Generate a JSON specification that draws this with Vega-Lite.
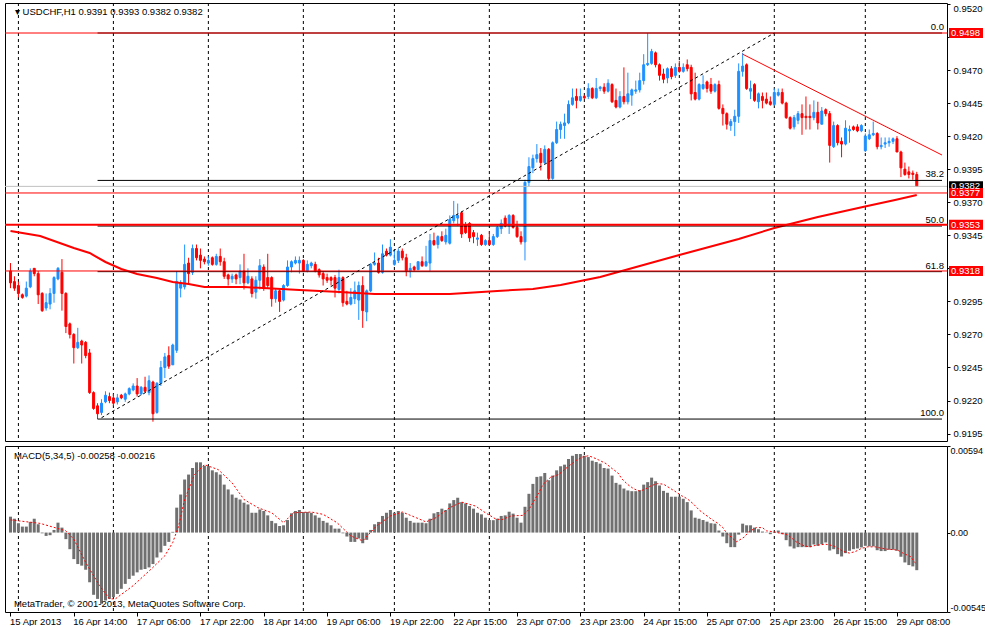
{
  "$schema": "https://vega.github.io/schema/vega-lite/v6.json",
  "background": "white",
  "padding": {"left": 3, "top": 2, "right": 0, "bottom": 0},
  "spacing": 3,
  "datasets": {
    "bars": [
      {"i":0,"o":0.9318,"h":0.9324,"l":0.9305,"c":0.9309,"m":0.00109},
      {"i":1,"o":0.9310,"h":0.9314,"l":0.9303,"c":0.9305,"m":0.00095},
      {"i":2,"o":0.9307,"h":0.9310,"l":0.9298,"c":0.9301,"m":0.00064},
      {"i":3,"o":0.9300,"h":0.9301,"l":0.9297,"c":0.9298,"m":0.00041},
      {"i":4,"o":0.9299,"h":0.9310,"l":0.9298,"c":0.9305,"m":0.00041},
      {"i":5,"o":0.9306,"h":0.9320,"l":0.9305,"c":0.9318,"m":0.00073},
      {"i":6,"o":0.9320,"h":0.9320,"l":0.9314,"c":0.9316,"m":0.00095},
      {"i":7,"o":0.9316,"h":0.9318,"l":0.9293,"c":0.9300,"m":0.00057},
      {"i":8,"o":0.9301,"h":0.9302,"l":0.9287,"c":0.9288,"m":-0.00005},
      {"i":9,"o":0.9290,"h":0.9301,"l":0.9288,"c":0.9294,"m":-0.00023},
      {"i":10,"o":0.9293,"h":0.9305,"l":0.9289,"c":0.9301,"m":-0.00018},
      {"i":11,"o":0.9301,"h":0.9314,"l":0.9294,"c":0.9313,"m":0.00018},
      {"i":12,"o":0.9312,"h":0.9321,"l":0.9311,"c":0.9320,"m":0.00068},
      {"i":13,"o":0.9317,"h":0.9327,"l":0.9288,"c":0.9301,"m":0.00034},
      {"i":14,"o":0.9301,"h":0.9302,"l":0.9271,"c":0.9276,"m":-0.00045},
      {"i":15,"o":0.9278,"h":0.9279,"l":0.9267,"c":0.9270,"m":-0.00114},
      {"i":16,"o":0.9270,"h":0.9271,"l":0.9248,"c":0.9260,"m":-0.00182},
      {"i":17,"o":0.9260,"h":0.9275,"l":0.9259,"c":0.9264,"m":-0.00216},
      {"i":18,"o":0.9265,"h":0.9266,"l":0.9248,"c":0.9262,"m":-0.00227},
      {"i":19,"o":0.9264,"h":0.9265,"l":0.9252,"c":0.9254,"m":-0.00255},
      {"i":20,"o":0.9256,"h":0.9259,"l":0.9225,"c":0.9226,"m":-0.00341},
      {"i":21,"o":0.9226,"h":0.9227,"l":0.9213,"c":0.9214,"m":-0.00427},
      {"i":22,"o":0.9216,"h":0.9218,"l":0.9206,"c":0.9210,"m":-0.00455},
      {"i":23,"o":0.9211,"h":0.9221,"l":0.9209,"c":0.9218,"m":-0.00489},
      {"i":24,"o":0.9219,"h":0.9227,"l":0.9218,"c":0.9224,"m":-0.00466},
      {"i":25,"o":0.9223,"h":0.9226,"l":0.9218,"c":0.9220,"m":-0.00455},
      {"i":26,"o":0.9222,"h":0.9225,"l":0.9216,"c":0.9218,"m":-0.00443},
      {"i":27,"o":0.9219,"h":0.9225,"l":0.9217,"c":0.9222,"m":-0.00421},
      {"i":28,"o":0.9224,"h":0.9225,"l":0.9221,"c":0.9222,"m":-0.00386},
      {"i":29,"o":0.9221,"h":0.9226,"l":0.9219,"c":0.9225,"m":-0.00352},
      {"i":30,"o":0.9225,"h":0.9230,"l":0.9224,"c":0.9229,"m":-0.00318},
      {"i":31,"o":0.9228,"h":0.9233,"l":0.9227,"c":0.9231,"m":-0.00296},
      {"i":32,"o":0.9231,"h":0.9237,"l":0.9223,"c":0.9225,"m":-0.00273},
      {"i":33,"o":0.9225,"h":0.9231,"l":0.9224,"c":0.9230,"m":-0.00255},
      {"i":34,"o":0.9230,"h":0.9238,"l":0.9226,"c":0.9227,"m":-0.00250},
      {"i":35,"o":0.9226,"h":0.9239,"l":0.9224,"c":0.9235,"m":-0.00239},
      {"i":36,"o":0.9234,"h":0.9235,"l":0.9204,"c":0.9210,"m":-0.00216},
      {"i":37,"o":0.9211,"h":0.9234,"l":0.9210,"c":0.9233,"m":-0.00171},
      {"i":38,"o":0.9233,"h":0.9250,"l":0.9231,"c":0.9245,"m":-0.00136},
      {"i":39,"o":0.9245,"h":0.9256,"l":0.9237,"c":0.9253,"m":-0.00091},
      {"i":40,"o":0.9254,"h":0.9261,"l":0.9244,"c":0.9246,"m":-0.00064},
      {"i":41,"o":0.9247,"h":0.9263,"l":0.9247,"c":0.9262,"m":0.00005},
      {"i":42,"o":0.9258,"h":0.9318,"l":0.9256,"c":0.9310,"m":0.00171},
      {"i":43,"o":0.9305,"h":0.9311,"l":0.9298,"c":0.9309,"m":0.00261},
      {"i":44,"o":0.9306,"h":0.9338,"l":0.9304,"c":0.9323,"m":0.00364},
      {"i":45,"o":0.9324,"h":0.9328,"l":0.9308,"c":0.9316,"m":0.00398},
      {"i":46,"o":0.9317,"h":0.9338,"l":0.9315,"c":0.9335,"m":0.00443},
      {"i":47,"o":0.9335,"h":0.9338,"l":0.9326,"c":0.9328,"m":0.00482},
      {"i":48,"o":0.9330,"h":0.9335,"l":0.9320,"c":0.9326,"m":0.00482},
      {"i":49,"o":0.9327,"h":0.9329,"l":0.9323,"c":0.9325,"m":0.00459},
      {"i":50,"o":0.9324,"h":0.9329,"l":0.9322,"c":0.9326,"m":0.00455},
      {"i":51,"o":0.9328,"h":0.9329,"l":0.9322,"c":0.9323,"m":0.00427},
      {"i":52,"o":0.9323,"h":0.9331,"l":0.9322,"c":0.9329,"m":0.00414},
      {"i":53,"o":0.9329,"h":0.9335,"l":0.9322,"c":0.9325,"m":0.00398},
      {"i":54,"o":0.9325,"h":0.9328,"l":0.9312,"c":0.9314,"m":0.00329},
      {"i":55,"o":0.9315,"h":0.9316,"l":0.9307,"c":0.9312,"m":0.00296},
      {"i":56,"o":0.9312,"h":0.9316,"l":0.9309,"c":0.9314,"m":0.00261},
      {"i":57,"o":0.9315,"h":0.9316,"l":0.9308,"c":0.9312,"m":0.00239},
      {"i":58,"o":0.9313,"h":0.9323,"l":0.9308,"c":0.9318,"m":0.00227},
      {"i":59,"o":0.9318,"h":0.9331,"l":0.9304,"c":0.9309,"m":0.00205},
      {"i":60,"o":0.9309,"h":0.9320,"l":0.9308,"c":0.9314,"m":0.00193},
      {"i":61,"o":0.9312,"h":0.9314,"l":0.9298,"c":0.9301,"m":0.00136},
      {"i":62,"o":0.9302,"h":0.9314,"l":0.9297,"c":0.9311,"m":0.00136},
      {"i":63,"o":0.9311,"h":0.9327,"l":0.9304,"c":0.9322,"m":0.00159},
      {"i":64,"o":0.9321,"h":0.9323,"l":0.9303,"c":0.9305,"m":0.00148},
      {"i":65,"o":0.9313,"h":0.9331,"l":0.9305,"c":0.9307,"m":0.00118},
      {"i":66,"o":0.9313,"h":0.9314,"l":0.9291,"c":0.9297,"m":0.00080},
      {"i":67,"o":0.9297,"h":0.9305,"l":0.9294,"c":0.9303,"m":0.00064},
      {"i":68,"o":0.9303,"h":0.9304,"l":0.9287,"c":0.9295,"m":0.00045},
      {"i":69,"o":0.9296,"h":0.9308,"l":0.9295,"c":0.9307,"m":0.00050},
      {"i":70,"o":0.9307,"h":0.9326,"l":0.9306,"c":0.9321,"m":0.00086},
      {"i":71,"o":0.9321,"h":0.9326,"l":0.9317,"c":0.9325,"m":0.00132},
      {"i":72,"o":0.9324,"h":0.9329,"l":0.9323,"c":0.9326,"m":0.00148},
      {"i":73,"o":0.9324,"h":0.9329,"l":0.9316,"c":0.9326,"m":0.00155},
      {"i":74,"o":0.9326,"h":0.9327,"l":0.9317,"c":0.9318,"m":0.00141},
      {"i":75,"o":0.9318,"h":0.9326,"l":0.9317,"c":0.9323,"m":0.00141},
      {"i":76,"o":0.9322,"h":0.9325,"l":0.9320,"c":0.9324,"m":0.00136},
      {"i":77,"o":0.9323,"h":0.9325,"l":0.9317,"c":0.9318,"m":0.00118},
      {"i":78,"o":0.9319,"h":0.9320,"l":0.9313,"c":0.9315,"m":0.00102},
      {"i":79,"o":0.9316,"h":0.9318,"l":0.9307,"c":0.9312,"m":0.00080},
      {"i":80,"o":0.9313,"h":0.9316,"l":0.9309,"c":0.9311,"m":0.00068},
      {"i":81,"o":0.9313,"h":0.9314,"l":0.9307,"c":0.9311,"m":0.00050},
      {"i":82,"o":0.9313,"h":0.9315,"l":0.9298,"c":0.9305,"m":0.00027},
      {"i":83,"o":0.9304,"h":0.9319,"l":0.9301,"c":0.9313,"m":0.00027},
      {"i":84,"o":0.9313,"h":0.9314,"l":0.9291,"c":0.9294,"m":-0.00005},
      {"i":85,"o":0.9295,"h":0.9303,"l":0.9292,"c":0.9293,"m":-0.00027},
      {"i":86,"o":0.9293,"h":0.9305,"l":0.9292,"c":0.9298,"m":-0.00064},
      {"i":87,"o":0.9297,"h":0.9310,"l":0.9293,"c":0.9303,"m":-0.00064},
      {"i":88,"o":0.9296,"h":0.9310,"l":0.9281,"c":0.9307,"m":-0.00041},
      {"i":89,"o":0.9307,"h":0.9314,"l":0.9275,"c":0.9288,"m":-0.00073},
      {"i":90,"o":0.9287,"h":0.9304,"l":0.9280,"c":0.9303,"m":-0.00050},
      {"i":91,"o":0.9303,"h":0.9324,"l":0.9302,"c":0.9323,"m":0.00018},
      {"i":92,"o":0.9323,"h":0.9332,"l":0.9322,"c":0.9324,"m":0.00057},
      {"i":93,"o":0.9324,"h":0.9328,"l":0.9316,"c":0.9317,"m":0.00073},
      {"i":94,"o":0.9317,"h":0.9338,"l":0.9316,"c":0.9331,"m":0.00114},
      {"i":95,"o":0.9333,"h":0.9335,"l":0.9329,"c":0.9330,"m":0.00136},
      {"i":96,"o":0.9330,"h":0.9342,"l":0.9329,"c":0.9336,"m":0.00155},
      {"i":97,"o":0.9323,"h":0.9334,"l":0.9322,"c":0.9326,"m":0.00136},
      {"i":98,"o":0.9326,"h":0.9335,"l":0.9324,"c":0.9333,"m":0.00148},
      {"i":99,"o":0.9333,"h":0.9335,"l":0.9326,"c":0.9328,"m":0.00136},
      {"i":100,"o":0.9328,"h":0.9331,"l":0.9314,"c":0.9318,"m":0.00102},
      {"i":101,"o":0.9318,"h":0.9324,"l":0.9313,"c":0.9320,"m":0.00080},
      {"i":102,"o":0.9321,"h":0.9322,"l":0.9318,"c":0.9319,"m":0.00068},
      {"i":103,"o":0.9319,"h":0.9325,"l":0.9319,"c":0.9325,"m":0.00068},
      {"i":104,"o":0.9325,"h":0.9329,"l":0.9321,"c":0.9322,"m":0.00068},
      {"i":105,"o":0.9322,"h":0.9337,"l":0.9321,"c":0.9325,"m":0.00064},
      {"i":106,"o":0.9324,"h":0.9346,"l":0.9318,"c":0.9341,"m":0.00095},
      {"i":107,"o":0.9341,"h":0.9347,"l":0.9337,"c":0.9338,"m":0.00132},
      {"i":108,"o":0.9338,"h":0.9345,"l":0.9335,"c":0.9344,"m":0.00141},
      {"i":109,"o":0.9344,"h":0.9348,"l":0.9340,"c":0.9341,"m":0.00164},
      {"i":110,"o":0.9340,"h":0.9350,"l":0.9338,"c":0.9345,"m":0.00155},
      {"i":111,"o":0.9339,"h":0.9360,"l":0.9338,"c":0.9357,"m":0.00200},
      {"i":112,"o":0.9356,"h":0.9371,"l":0.9354,"c":0.9360,"m":0.00223},
      {"i":113,"o":0.9358,"h":0.9369,"l":0.9352,"c":0.9360,"m":0.00239},
      {"i":114,"o":0.9362,"h":0.9363,"l":0.9343,"c":0.9346,"m":0.00209},
      {"i":115,"o":0.9353,"h":0.9355,"l":0.9346,"c":0.9347,"m":0.00200},
      {"i":116,"o":0.9354,"h":0.9355,"l":0.9340,"c":0.9343,"m":0.00182},
      {"i":117,"o":0.9347,"h":0.9349,"l":0.9339,"c":0.9344,"m":0.00164},
      {"i":118,"o":0.9342,"h":0.9347,"l":0.9337,"c":0.9343,"m":0.00136},
      {"i":119,"o":0.9345,"h":0.9346,"l":0.9337,"c":0.9338,"m":0.00125},
      {"i":120,"o":0.9338,"h":0.9342,"l":0.9337,"c":0.9341,"m":0.00102},
      {"i":121,"o":0.9341,"h":0.9348,"l":0.9337,"c":0.9338,"m":0.00086},
      {"i":122,"o":0.9338,"h":0.9346,"l":0.9337,"c":0.9344,"m":0.00085},
      {"i":123,"o":0.9344,"h":0.9352,"l":0.9343,"c":0.9351,"m":0.00095},
      {"i":124,"o":0.9350,"h":0.9357,"l":0.9346,"c":0.9354,"m":0.00114},
      {"i":125,"o":0.9358,"h":0.9360,"l":0.9351,"c":0.9352,"m":0.00118},
      {"i":126,"o":0.9352,"h":0.9361,"l":0.9346,"c":0.9360,"m":0.00143},
      {"i":127,"o":0.9360,"h":0.9361,"l":0.9350,"c":0.9351,"m":0.00130},
      {"i":128,"o":0.9351,"h":0.9356,"l":0.9343,"c":0.9344,"m":0.00102},
      {"i":129,"o":0.9344,"h":0.9348,"l":0.9338,"c":0.9340,"m":0.00068},
      {"i":130,"o":0.9340,"h":0.9387,"l":0.9326,"c":0.9385,"m":0.00177},
      {"i":131,"o":0.9385,"h":0.9404,"l":0.9382,"c":0.9397,"m":0.00266},
      {"i":132,"o":0.9396,"h":0.9406,"l":0.9392,"c":0.9403,"m":0.00334},
      {"i":133,"o":0.9403,"h":0.9414,"l":0.9400,"c":0.9406,"m":0.00382},
      {"i":134,"o":0.9407,"h":0.9411,"l":0.9394,"c":0.9400,"m":0.00386},
      {"i":135,"o":0.9400,"h":0.9413,"l":0.9399,"c":0.9410,"m":0.00409},
      {"i":136,"o":0.9410,"h":0.9411,"l":0.9386,"c":0.9388,"m":0.00359},
      {"i":137,"o":0.9388,"h":0.9416,"l":0.9387,"c":0.9415,"m":0.00391},
      {"i":138,"o":0.9415,"h":0.9431,"l":0.9414,"c":0.9425,"m":0.00427},
      {"i":139,"o":0.9425,"h":0.9431,"l":0.9418,"c":0.9429,"m":0.00455},
      {"i":140,"o":0.9428,"h":0.9437,"l":0.9418,"c":0.9430,"m":0.00466},
      {"i":141,"o":0.9430,"h":0.9447,"l":0.9429,"c":0.9444,"m":0.00505},
      {"i":142,"o":0.9444,"h":0.9456,"l":0.9443,"c":0.9449,"m":0.00527},
      {"i":143,"o":0.9450,"h":0.9456,"l":0.9441,"c":0.9447,"m":0.00539},
      {"i":144,"o":0.9447,"h":0.9456,"l":0.9446,"c":0.9450,"m":0.00539},
      {"i":145,"o":0.9450,"h":0.9451,"l":0.9448,"c":0.9449,"m":0.00527},
      {"i":146,"o":0.9450,"h":0.9460,"l":0.9448,"c":0.9456,"m":0.00518},
      {"i":147,"o":0.9456,"h":0.9457,"l":0.9448,"c":0.9449,"m":0.00493},
      {"i":148,"o":0.9449,"h":0.9464,"l":0.9448,"c":0.9456,"m":0.00484},
      {"i":149,"o":0.9456,"h":0.9458,"l":0.9454,"c":0.9457,"m":0.00473},
      {"i":150,"o":0.9457,"h":0.9460,"l":0.9452,"c":0.9454,"m":0.00443},
      {"i":151,"o":0.9454,"h":0.9463,"l":0.9453,"c":0.9460,"m":0.00439},
      {"i":152,"o":0.9459,"h":0.9460,"l":0.9445,"c":0.9446,"m":0.00391},
      {"i":153,"o":0.9447,"h":0.9456,"l":0.9441,"c":0.9442,"m":0.00341},
      {"i":154,"o":0.9442,"h":0.9454,"l":0.9441,"c":0.9450,"m":0.00329},
      {"i":155,"o":0.9450,"h":0.9472,"l":0.9444,"c":0.9446,"m":0.00302},
      {"i":156,"o":0.9446,"h":0.9468,"l":0.9444,"c":0.9452,"m":0.00289},
      {"i":157,"o":0.9451,"h":0.9456,"l":0.9443,"c":0.9455,"m":0.00284},
      {"i":158,"o":0.9454,"h":0.9462,"l":0.9452,"c":0.9455,"m":0.00284},
      {"i":159,"o":0.9455,"h":0.9468,"l":0.9453,"c":0.9462,"m":0.00291},
      {"i":160,"o":0.9462,"h":0.9482,"l":0.9459,"c":0.9474,"m":0.00329},
      {"i":161,"o":0.9474,"h":0.9498,"l":0.9473,"c":0.9475,"m":0.00346},
      {"i":162,"o":0.9475,"h":0.9486,"l":0.9474,"c":0.9484,"m":0.00377},
      {"i":163,"o":0.9483,"h":0.9484,"l":0.9472,"c":0.9474,"m":0.00352},
      {"i":164,"o":0.9474,"h":0.9475,"l":0.9462,"c":0.9466,"m":0.00323},
      {"i":165,"o":0.9467,"h":0.9471,"l":0.9460,"c":0.9463,"m":0.00286},
      {"i":166,"o":0.9464,"h":0.9472,"l":0.9460,"c":0.9471,"m":0.00273},
      {"i":167,"o":0.9471,"h":0.9473,"l":0.9463,"c":0.9465,"m":0.00246},
      {"i":168,"o":0.9466,"h":0.9475,"l":0.9464,"c":0.9472,"m":0.00246},
      {"i":169,"o":0.9472,"h":0.9477,"l":0.9468,"c":0.9469,"m":0.00246},
      {"i":170,"o":0.9469,"h":0.9475,"l":0.9468,"c":0.9472,"m":0.00232},
      {"i":171,"o":0.9474,"h":0.9478,"l":0.9469,"c":0.9471,"m":0.00209},
      {"i":172,"o":0.9472,"h":0.9474,"l":0.9447,"c":0.9452,"m":0.00152},
      {"i":173,"o":0.9453,"h":0.9468,"l":0.9447,"c":0.9448,"m":0.00102},
      {"i":174,"o":0.9448,"h":0.9460,"l":0.9447,"c":0.9459,"m":0.00095},
      {"i":175,"o":0.9456,"h":0.9466,"l":0.9455,"c":0.9459,"m":0.00086},
      {"i":176,"o":0.9461,"h":0.9462,"l":0.9453,"c":0.9456,"m":0.00075},
      {"i":177,"o":0.9459,"h":0.9464,"l":0.9452,"c":0.9454,"m":0.00064},
      {"i":178,"o":0.9454,"h":0.9460,"l":0.9453,"c":0.9459,"m":0.00061},
      {"i":179,"o":0.9459,"h":0.9462,"l":0.9440,"c":0.9441,"m":0.00014},
      {"i":180,"o":0.9441,"h":0.9444,"l":0.9428,"c":0.9437,"m":-0.00027},
      {"i":181,"o":0.9437,"h":0.9438,"l":0.9425,"c":0.9429,"m":-0.00073},
      {"i":182,"o":0.9428,"h":0.9433,"l":0.9424,"c":0.9431,"m":-0.00100},
      {"i":183,"o":0.9431,"h":0.9440,"l":0.9420,"c":0.9435,"m":-0.00100},
      {"i":184,"o":0.9435,"h":0.9475,"l":0.9430,"c":0.9469,"m":-0.00014},
      {"i":185,"o":0.9469,"h":0.9483,"l":0.9465,"c":0.9473,"m":0.00061},
      {"i":186,"o":0.9474,"h":0.9475,"l":0.9455,"c":0.9456,"m":0.00050},
      {"i":187,"o":0.9454,"h":0.9462,"l":0.9448,"c":0.9456,"m":0.00050},
      {"i":188,"o":0.9459,"h":0.9460,"l":0.9446,"c":0.9447,"m":0.00034},
      {"i":189,"o":0.9446,"h":0.9453,"l":0.9441,"c":0.9452,"m":0.00023},
      {"i":190,"o":0.9450,"h":0.9453,"l":0.9441,"c":0.9447,"m":0.00007},
      {"i":191,"o":0.9448,"h":0.9453,"l":0.9444,"c":0.9445,"m":0.00002},
      {"i":192,"o":0.9446,"h":0.9450,"l":0.9443,"c":0.9444,"m":-0.00011},
      {"i":193,"o":0.9444,"h":0.9456,"l":0.9443,"c":0.9453,"m":0.00005},
      {"i":194,"o":0.9451,"h":0.9456,"l":0.9450,"c":0.9453,"m":0.00014},
      {"i":195,"o":0.9453,"h":0.9456,"l":0.9444,"c":0.9445,"m":-0.00011},
      {"i":196,"o":0.9445,"h":0.9446,"l":0.9433,"c":0.9434,"m":-0.00052},
      {"i":197,"o":0.9434,"h":0.9435,"l":0.9425,"c":0.9426,"m":-0.00095},
      {"i":198,"o":0.9427,"h":0.9436,"l":0.9425,"c":0.9434,"m":-0.00109},
      {"i":199,"o":0.9432,"h":0.9439,"l":0.9429,"c":0.9437,"m":-0.00100},
      {"i":200,"o":0.9437,"h":0.9444,"l":0.9421,"c":0.9434,"m":-0.00100},
      {"i":201,"o":0.9435,"h":0.9450,"l":0.9425,"c":0.9434,"m":-0.00100},
      {"i":202,"o":0.9435,"h":0.9444,"l":0.9425,"c":0.9434,"m":-0.00100},
      {"i":203,"o":0.9434,"h":0.9447,"l":0.9432,"c":0.9438,"m":-0.00082},
      {"i":204,"o":0.9438,"h":0.9446,"l":0.9425,"c":0.9430,"m":-0.00091},
      {"i":205,"o":0.9429,"h":0.9442,"l":0.9429,"c":0.9439,"m":-0.00080},
      {"i":206,"o":0.9440,"h":0.9441,"l":0.9435,"c":0.9437,"m":-0.00068},
      {"i":207,"o":0.9437,"h":0.9439,"l":0.9400,"c":0.9413,"m":-0.00123},
      {"i":208,"o":0.9412,"h":0.9431,"l":0.9411,"c":0.9428,"m":-0.00114},
      {"i":209,"o":0.9428,"h":0.9429,"l":0.9413,"c":0.9415,"m":-0.00148},
      {"i":210,"o":0.9416,"h":0.9419,"l":0.9404,"c":0.9414,"m":-0.00164},
      {"i":211,"o":0.9414,"h":0.9432,"l":0.9413,"c":0.9426,"m":-0.00141},
      {"i":212,"o":0.9424,"h":0.9428,"l":0.9415,"c":0.9425,"m":-0.00125},
      {"i":213,"o":0.9427,"h":0.9428,"l":0.9424,"c":0.9425,"m":-0.00114},
      {"i":214,"o":0.9427,"h":0.9429,"l":0.9423,"c":0.9424,"m":-0.00109},
      {"i":215,"o":0.9424,"h":0.9429,"l":0.9423,"c":0.9428,"m":-0.00102},
      {"i":216,"o":0.9409,"h":0.9422,"l":0.9408,"c":0.9420,"m":-0.00091},
      {"i":217,"o":0.9418,"h":0.9425,"l":0.9417,"c":0.9421,"m":-0.00095},
      {"i":218,"o":0.9421,"h":0.9431,"l":0.9420,"c":0.9422,"m":-0.00095},
      {"i":219,"o":0.9422,"h":0.9423,"l":0.9410,"c":0.9412,"m":-0.00121},
      {"i":220,"o":0.9412,"h":0.9419,"l":0.9410,"c":0.9413,"m":-0.00127},
      {"i":221,"o":0.9414,"h":0.9419,"l":0.9411,"c":0.9415,"m":-0.00127},
      {"i":222,"o":0.9415,"h":0.9419,"l":0.9412,"c":0.9416,"m":-0.00118},
      {"i":223,"o":0.9416,"h":0.9419,"l":0.9414,"c":0.9418,"m":-0.00118},
      {"i":224,"o":0.9418,"h":0.9420,"l":0.9408,"c":0.9408,"m":-0.00125},
      {"i":225,"o":0.9408,"h":0.9409,"l":0.9389,"c":0.9396,"m":-0.00166},
      {"i":226,"o":0.9395,"h":0.9400,"l":0.9390,"c":0.9391,"m":-0.00205},
      {"i":227,"o":0.9393,"h":0.9397,"l":0.9388,"c":0.9391,"m":-0.00223},
      {"i":228,"o":0.9392,"h":0.9394,"l":0.9387,"c":0.9391,"m":-0.00232},
      {"i":229,"o":0.9391,"h":0.9393,"l":0.9382,"c":0.9382,"m":-0.00258}
    ],
    "ma": [
      {"i":0,"p":0.93483},{"i":7.5,"p":0.93445},{"i":16,"p":0.93354},{"i":20,"p":0.93316},
      {"i":24,"p":0.93248},{"i":28,"p":0.93195},{"i":32,"p":0.93157},{"i":37,"p":0.93127},
      {"i":41,"p":0.93097},{"i":45,"p":0.93082},{"i":49,"p":0.93059},{"i":59,"p":0.93059},
      {"i":73,"p":0.93036},{"i":82,"p":0.93023},{"i":92,"p":0.93006},{"i":111,"p":0.93006},
      {"i":115,"p":0.93014},{"i":123,"p":0.93029},{"i":132,"p":0.93044},{"i":139,"p":0.93074},
      {"i":149,"p":0.93135},{"i":159,"p":0.93218},{"i":169,"p":0.93301},{"i":184,"p":0.93422},
      {"i":193,"p":0.93505},{"i":204,"p":0.93588},{"i":216.5,"p":0.93672},{"i":223.5,"p":0.93717},
      {"i":229,"p":0.93755}
    ],
    "sig": [
      {"i":0,"s":0.00087},{"i":7.5,"s":0.00063},{"i":14,"s":0.00012},{"i":16,"s":-0.00046},
      {"i":19,"s":-0.00205},{"i":22.5,"s":-0.00364},{"i":25,"s":-0.00455},{"i":26.5,"s":-0.00455},
      {"i":31,"s":-0.00364},{"i":36,"s":-0.00239},{"i":39,"s":-0.00159},{"i":41,"s":-0.00068},
      {"i":42.5,"s":0.00046},{"i":44,"s":0.00227},{"i":46.5,"s":0.00398},{"i":49,"s":0.00466},
      {"i":52.5,"s":0.00432},{"i":56,"s":0.00341},{"i":59,"s":0.00227},{"i":62.5,"s":0.00171},
      {"i":66,"s":0.00136},{"i":69,"s":0.00068},{"i":71.5,"s":0.00136},{"i":76,"s":0.00141},
      {"i":79,"s":0.00125},{"i":82.5,"s":0.00068},{"i":86,"s":-0.00023},{"i":89,"s":-0.00057},
      {"i":92.5,"s":0.00046},{"i":96,"s":0.00114},{"i":99,"s":0.00141},{"i":102.5,"s":0.00102},
      {"i":105,"s":0.00073},{"i":107.5,"s":0.00102},{"i":111,"s":0.00171},{"i":114,"s":0.00209},
      {"i":117.5,"s":0.00182},{"i":120,"s":0.00136},{"i":122.5,"s":0.00095},{"i":124,"s":0.00087},
      {"i":126.5,"s":0.00114},{"i":129.5,"s":0.00118},{"i":131,"s":0.00159},{"i":132,"s":0.00205},
      {"i":133.5,"s":0.00273},{"i":134.5,"s":0.00329},{"i":136.5,"s":0.00380},{"i":138.5,"s":0.00398},
      {"i":141,"s":0.00455},{"i":143,"s":0.00496},{"i":144.5,"s":0.00518},{"i":146,"s":0.00527},
      {"i":147,"s":0.00518},{"i":148.5,"s":0.00500},{"i":150.5,"s":0.00473},{"i":151.5,"s":0.00450},
      {"i":153.5,"s":0.00409},{"i":154.5,"s":0.00368},{"i":156,"s":0.00329},{"i":157.5,"s":0.00300},
      {"i":159,"s":0.00284},{"i":160.5,"s":0.00300},{"i":162,"s":0.00323},{"i":163.5,"s":0.00336},
      {"i":165,"s":0.00332},{"i":166.5,"s":0.00307},{"i":168.5,"s":0.00273},{"i":169.5,"s":0.00254},
      {"i":171,"s":0.00232},{"i":172.5,"s":0.00198},{"i":174,"s":0.00155},{"i":176,"s":0.00114},
      {"i":177.5,"s":0.00084},{"i":178.5,"s":0.00068},{"i":180,"s":0.00034},{"i":181,"s":-0.00005},
      {"i":182.5,"s":-0.00041},{"i":183.5,"s":-0.00063},{"i":185.5,"s":-0.00029},{"i":186.5,"s":0.00005},
      {"i":188.5,"s":0.00034},{"i":190,"s":0.00034},{"i":191,"s":0.00012},{"i":193,"s":0.00005},
      {"i":194.5,"s":-0.00005},{"i":196,"s":-0.00012},{"i":197,"s":-0.00029},{"i":198.5,"s":-0.00063},
      {"i":200.5,"s":-0.00091},{"i":202,"s":-0.00098},{"i":203.5,"s":-0.00087},{"i":206,"s":-0.00080},
      {"i":208,"s":-0.00091},{"i":209,"s":-0.00107},{"i":210.5,"s":-0.00130},{"i":212,"s":-0.00141},
      {"i":213.5,"s":-0.00130},{"i":215,"s":-0.00109},{"i":216.5,"s":-0.00098},{"i":218.5,"s":-0.00098},
      {"i":220,"s":-0.00107},{"i":221.5,"s":-0.00114},{"i":223.5,"s":-0.00118},{"i":224.5,"s":-0.00125},
      {"i":225.5,"s":-0.00141},{"i":227.5,"s":-0.00166},{"i":228.5,"s":-0.00205},{"i":229,"s":-0.00216}
    ],
    "days": [{"i":2},{"i":26},{"i":50},{"i":74},{"i":97},{"i":121},{"i":145},{"i":169},{"i":193},{"i":216}],
    "fib": [
      {"level":"0.0","p":0.9498},{"level":"38.2","p":0.93865},{"level":"50.0","p":0.9352},
      {"level":"61.8","p":0.93175},{"level":"100.0","p":0.9206}
    ],
    "levels": [
      {"p":0.9382,"kind":"bid"},{"p":0.9498,"kind":"level"},{"p":0.9377,"kind":"level"},
      {"p":0.9353,"kind":"level"},{"p":0.9318,"kind":"level"}
    ],
    "trendUp": [{"i":23,"p":0.9207},{"i":193,"p":0.9498}],
    "trendDown": [{"i":185,"p":0.9482},{"i":235.375,"p":0.94057}],
    "mainNote": [{"label":"▾ USDCHF,H1  0.9391 0.9393 0.9382 0.9382"}],
    "macdNote": [{"label":"MACD(5,34,5) -0.00258 -0.00216"}],
    "copyNote": [{"label":"MetaTrader, © 2001-2013, MetaQuotes Software Corp."}]
  },
  "vconcat": [
    {
      "width": 942,
      "height": 438,
      "resolve": {"axis": {"x": "independent", "y": "independent"}},
      "layer": [
        {
          "data": {"name": "days"},
          "mark": {"type": "rule", "color": "black", "strokeDash": [3, 3], "strokeWidth": 1},
          "encoding": {
            "x": {"field": "i", "type": "quantitative", "scale": {"domain": [-0.125, 235.375], "nice": false, "zero": false}, "axis": null}
          }
        },
        {
          "data": {"name": "bars"},
          "mark": {"type": "rule", "strokeWidth": 1},
          "encoding": {
            "x": {"field": "i", "type": "quantitative", "scale": {"domain": [-0.125, 235.375], "nice": false, "zero": false}, "axis": null},
            "y": {
              "field": "l", "type": "quantitative",
              "scale": {"domain": [0.91894, 0.95207], "nice": false, "zero": false},
              "axis": {
                "orient": "right", "title": null,
                "values": [0.9195, 0.922, 0.9245, 0.927, 0.9295, 0.932, 0.9345, 0.937, 0.9395, 0.942, 0.9445, 0.947, 0.9495, 0.952],
                "labelExpr": "(abs(datum.value - 0.9495) < 0.00001 || abs(datum.value - 0.932) < 0.00001) ? '' : format(datum.value, '.4f')",
                "tickSize": 3, "labelPadding": 3, "labelFlush": 2, "labelBound": false, "labelOverlap": false
              }
            },
            "y2": {"field": "h"},
            "color": {"condition": {"test": "datum.c < datum.o", "value": "#ff0000"}, "value": "#1e90ff"}
          }
        },
        {
          "data": {"name": "bars"},
          "mark": {"type": "bar", "size": 2, "strokeWidth": 1, "orient": "vertical"},
          "encoding": {
            "x": {"field": "i", "type": "quantitative", "scale": {"domain": [-0.125, 235.375], "nice": false, "zero": false}, "axis": null},
            "y": {"field": "o", "type": "quantitative", "scale": {"domain": [0.91894, 0.95207], "nice": false, "zero": false}, "axis": null},
            "y2": {"field": "c"},
            "color": {"condition": {"test": "datum.c < datum.o", "value": "#ff0000"}, "value": "#1e90ff"},
            "stroke": {"condition": {"test": "datum.c < datum.o", "value": "#ff0000"}, "value": "#1e90ff"}
          }
        },
        {
          "data": {"name": "ma"},
          "mark": {"type": "line", "color": "#ff0000", "strokeWidth": 2, "clip": true},
          "encoding": {
            "x": {"field": "i", "type": "quantitative", "scale": {"domain": [-0.125, 235.375], "nice": false, "zero": false}, "axis": null},
            "y": {"field": "p", "type": "quantitative", "scale": {"domain": [0.91894, 0.95207], "nice": false, "zero": false}, "axis": null}
          }
        },
        {
          "data": {"name": "fib"},
          "mark": {"type": "rule", "color": "black", "strokeWidth": 1},
          "encoding": {
            "x": {"datum": 22, "type": "quantitative", "scale": {"domain": [-0.125, 235.375], "nice": false, "zero": false}, "axis": null},
            "x2": {"datum": 235.375},
            "y": {"field": "p", "type": "quantitative", "scale": {"domain": [0.91894, 0.95207], "nice": false, "zero": false}, "axis": null}
          }
        },
        {
          "data": {"name": "levels"},
          "mark": {"type": "rule"},
          "encoding": {
            "y": {"field": "p", "type": "quantitative", "scale": {"domain": [0.91894, 0.95207], "nice": false, "zero": false}, "axis": null},
            "color": {"condition": {"test": "datum.kind == 'bid'", "value": "#c0c0c0"}, "value": "#ff0000"},
            "strokeWidth": {"condition": {"test": "datum.p == 0.9353", "value": 2}, "value": 1}
          }
        },
        {
          "data": {"name": "trendUp"},
          "mark": {"type": "line", "color": "black", "strokeWidth": 1, "strokeDash": [3, 3], "clip": true},
          "encoding": {
            "x": {"field": "i", "type": "quantitative", "scale": {"domain": [-0.125, 235.375], "nice": false, "zero": false}, "axis": null},
            "y": {"field": "p", "type": "quantitative", "scale": {"domain": [0.91894, 0.95207], "nice": false, "zero": false}, "axis": null}
          }
        },
        {
          "data": {"name": "trendDown"},
          "mark": {"type": "line", "color": "#ff0000", "strokeWidth": 1, "clip": true},
          "encoding": {
            "x": {"field": "i", "type": "quantitative", "scale": {"domain": [-0.125, 235.375], "nice": false, "zero": false}, "axis": null},
            "y": {"field": "p", "type": "quantitative", "scale": {"domain": [0.91894, 0.95207], "nice": false, "zero": false}, "axis": null}
          }
        },
        {
          "data": {"name": "fib"},
          "mark": {"type": "text", "x": "width", "align": "right", "baseline": "alphabetic", "dx": -3, "dy": -3, "fill": "black"},
          "encoding": {
            "y": {"field": "p", "type": "quantitative", "scale": {"domain": [0.91894, 0.95207], "nice": false, "zero": false}, "axis": null},
            "text": {"field": "level"}
          }
        },
        {
          "data": {"name": "levels"},
          "mark": {"type": "point", "shape": "M0.4,-1H7.2V1H0.4Z", "size": 100, "filled": true, "opacity": 1, "strokeWidth": 0, "x": "width"},
          "encoding": {
            "y": {"field": "p", "type": "quantitative", "scale": {"domain": [0.91894, 0.95207], "nice": false, "zero": false}, "axis": null},
            "color": {"condition": {"test": "datum.kind == 'bid'", "value": "#000000"}, "value": "#ff0000"}
          }
        },
        {
          "data": {"name": "levels"},
          "mark": {"type": "text", "x": "width", "dx": 4, "align": "left", "baseline": "middle", "fill": "white"},
          "encoding": {
            "y": {"field": "p", "type": "quantitative", "scale": {"domain": [0.91894, 0.95207], "nice": false, "zero": false}, "axis": null},
            "text": {"field": "p", "type": "quantitative", "format": ".4f"}
          }
        },
        {
          "data": {"name": "mainNote"},
          "mark": {"type": "text", "align": "left", "baseline": "alphabetic", "fill": "black"},
          "encoding": {
            "x": {"datum": 1.125, "type": "quantitative", "scale": {"domain": [-0.125, 235.375], "nice": false, "zero": false}, "axis": null},
            "y": {"datum": 0.95116, "type": "quantitative", "scale": {"domain": [0.91894, 0.95207], "nice": false, "zero": false}, "axis": null},
            "text": {"field": "label"}
          }
        }
      ]
    },
    {
      "width": 942,
      "height": 166,
      "resolve": {"axis": {"x": "independent", "y": "independent"}},
      "layer": [
        {
          "data": {"name": "days"},
          "mark": {"type": "rule", "color": "black", "strokeDash": [3, 3], "strokeWidth": 1},
          "encoding": {
            "x": {"field": "i", "type": "quantitative", "scale": {"domain": [-0.125, 235.375], "nice": false, "zero": false}, "axis": null}
          }
        },
        {
          "data": {"name": "bars"},
          "mark": {"type": "bar", "size": 3, "color": "#707070", "orient": "vertical"},
          "encoding": {
            "x": {
              "field": "i", "type": "quantitative",
              "scale": {"domain": [-0.125, 235.375], "nice": false, "zero": false},
              "axis": {
                "values": [0, 16, 32, 48, 64, 80, 96, 112, 128, 144, 160, 176, 192, 208, 224],
                "labelExpr": "['15 Apr 2013','16 Apr 14:00','17 Apr 06:00','17 Apr 22:00','18 Apr 14:00','19 Apr 06:00','19 Apr 22:00','22 Apr 15:00','23 Apr 07:00','23 Apr 23:00','24 Apr 15:00','25 Apr 07:00','25 Apr 23:00','26 Apr 15:00','29 Apr 08:00'][round(datum.value / 16)]",
                "labelAlign": "left", "labelFlush": false, "labelOverlap": false, "labelBound": false,
                "tickSize": 4, "labelPadding": 0, "labelOffset": -1, "title": null
              }
            },
            "y": {
              "field": "m", "type": "quantitative",
              "scale": {"domain": [-0.00545, 0.00594], "nice": false, "zero": false},
              "axis": {
                "orient": "right", "title": null,
                "values": [-0.00545, 0, 0.00594],
                "labelExpr": "datum.value > 0 ? '0.00594' : (datum.value < 0 ? '-0.00545' : '0.00')",
                "tickSize": 3, "labelPadding": 0, "labelFontSize": 9, "labelFlush": true, "labelOverlap": false
              }
            },
            "y2": {"datum": 0}
          }
        },
        {
          "data": {"name": "sig"},
          "mark": {"type": "line", "color": "#ff0000", "strokeWidth": 1, "strokeDash": [2, 2]},
          "encoding": {
            "x": {"field": "i", "type": "quantitative", "scale": {"domain": [-0.125, 235.375], "nice": false, "zero": false}, "axis": null},
            "y": {"field": "s", "type": "quantitative", "scale": {"domain": [-0.00545, 0.00594], "nice": false, "zero": false}, "axis": null}
          }
        },
        {
          "data": {"name": "macdNote"},
          "mark": {"type": "text", "align": "left", "baseline": "alphabetic", "fill": "black"},
          "encoding": {
            "x": {"datum": 0.875, "type": "quantitative", "scale": {"domain": [-0.125, 235.375], "nice": false, "zero": false}, "axis": null},
            "y": {"datum": 0.00505, "type": "quantitative", "scale": {"domain": [-0.00545, 0.00594], "nice": false, "zero": false}, "axis": null},
            "text": {"field": "label"}
          }
        },
        {
          "data": {"name": "copyNote"},
          "mark": {"type": "text", "align": "left", "baseline": "alphabetic", "fill": "black"},
          "encoding": {
            "x": {"datum": 0.875, "type": "quantitative", "scale": {"domain": [-0.125, 235.375], "nice": false, "zero": false}, "axis": null},
            "y": {"datum": -0.00511, "type": "quantitative", "scale": {"domain": [-0.00545, 0.00594], "nice": false, "zero": false}, "axis": null},
            "text": {"field": "label"}
          }
        }
      ]
    }
  ],
  "config": {
    "font": "Liberation Sans",
    "view": {"stroke": "black", "strokeWidth": 1, "fill": "white"},
    "axis": {
      "domain": false, "grid": false,
      "labelFont": "Liberation Sans", "labelFontSize": 9.5, "labelColor": "black",
      "tickColor": "black", "tickWidth": 1,
      "titleFont": "Liberation Sans", "titleFontSize": 9.5, "titleFontWeight": "normal", "titleColor": "black"
    },
    "text": {"font": "Liberation Sans", "fontSize": 9.5}
  }
}
